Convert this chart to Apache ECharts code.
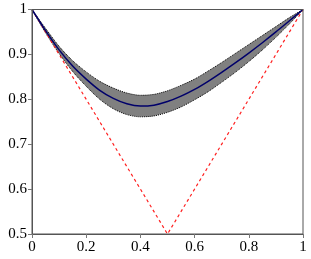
<!DOCTYPE html>
<html><head><meta charset="utf-8">
<script src="https://cdn.jsdelivr.net/npm/echarts@6/dist/echarts.min.js"></script>
<style>html,body{margin:0;padding:0;background:#fff}#c{width:311px;height:259px}</style>
</head><body><div id="c"></div>
<script>
const xs    = [0, 0.05, 0.1, 0.15, 0.2, 0.25, 0.3, 0.35, 0.4, 0.45, 0.5, 0.55, 0.6, 0.65, 0.7, 0.75, 0.8, 0.85, 0.9, 0.95, 1];
const mean  = [1.0, 0.953, 0.91, 0.874, 0.845, 0.82, 0.802, 0.79, 0.785, 0.787, 0.795, 0.807, 0.822, 0.84, 0.86, 0.881, 0.903, 0.926, 0.95, 0.975, 1.0];
const lower = [1.0, 0.948, 0.902, 0.862, 0.829, 0.800, 0.779, 0.766, 0.761, 0.763, 0.771, 0.783, 0.799, 0.817, 0.838, 0.860, 0.884, 0.910, 0.938, 0.968, 1.0];
const upper = [1.0, 0.958, 0.918, 0.886, 0.861, 0.840, 0.825, 0.814, 0.809, 0.811, 0.819, 0.831, 0.845, 0.863, 0.882, 0.902, 0.922, 0.942, 0.962, 0.982, 1.0];
const refX  = [0, 0.5, 1];
const refY  = [1, 0.5, 1];

const font = "Liberation Serif";
const chart = echarts.init(document.getElementById('c'), null, {renderer: 'canvas'});
chart.setOption({
  animation: false,
  grid: {left: 32, right: 8, top: 9.5, bottom: 25, show: true, borderColor: '#555', borderWidth: 1, backgroundColor: 'transparent', z: 10},
  xAxis: {
    type: 'value', min: 0, max: 1, interval: 0.2, z: 10,
    axisLine: {show: true, lineStyle: {color: '#555', width: 1}},
    axisTick: {show: true, inside: false, length: 4, lineStyle: {color: '#777'}},
    axisLabel: {fontFamily: font, fontSize: 15, color: '#000', margin: 6},
    splitLine: {show: false}
  },
  yAxis: {
    type: 'value', min: 0.5, max: 1, interval: 0.1, z: 10,
    axisLine: {show: true, lineStyle: {color: '#555', width: 1}},
    axisTick: {show: true, inside: false, length: 4, lineStyle: {color: '#777'}},
    axisLabel: {fontFamily: font, fontSize: 15, color: '#000', margin: 5},
    splitLine: {show: false}
  },
  series: [
    {
      type: 'line', name: 'upper', symbol: 'none', smooth: 0.3,
      data: xs.map((x, i) => [x, upper[i]]),
      lineStyle: {color: '#000', width: 1, type: [1, 1]},
      areaStyle: {color: '#808080', opacity: 1, origin: 'start'}, z: 2
    },
    {
      type: 'line', name: 'lower', symbol: 'none', smooth: 0.3,
      data: xs.map((x, i) => [x, lower[i]]),
      lineStyle: {color: '#000', width: 1, type: [1, 1]},
      areaStyle: {color: '#ffffff', opacity: 1, origin: 'start'}, z: 3
    },
    {
      type: 'line', name: 'ref', symbol: 'none',
      data: refX.map((x, i) => [x, refY[i]]),
      lineStyle: {color: '#ff2020', width: 1.2, type: [3, 3]}, z: 4
    },
    {
      type: 'line', name: 'mean', symbol: 'none', smooth: 0.3,
      data: xs.map((x, i) => [x, mean[i]]),
      lineStyle: {color: '#00006a', width: 1.5}, z: 5
    }
  ]
});
</script></body></html>
